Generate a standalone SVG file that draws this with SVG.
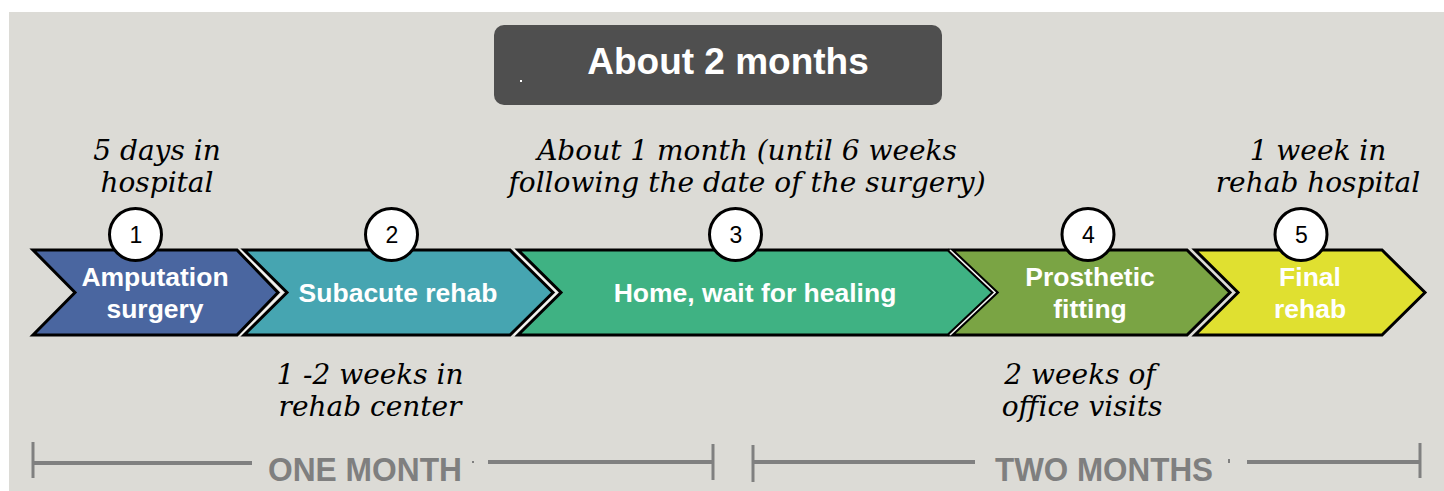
<svg xmlns="http://www.w3.org/2000/svg" width="1444" height="491" viewBox="0 0 1444 491">
<style>
.chev{stroke:#000;stroke-width:3;stroke-linejoin:miter}
.gap{fill:none;stroke:#f4f4f2;stroke-width:1.6}
.lbl{font-family:"Liberation Sans",Arial,sans-serif;font-weight:bold;font-size:26.5px;fill:#fff;text-anchor:middle}
.num{font-family:"Liberation Sans",Arial,sans-serif;font-size:23px;fill:#000;text-anchor:middle}
.circ{fill:#fff;stroke:#000;stroke-width:3}
.note{font-family:"DejaVu Serif","Liberation Serif",serif;font-style:italic;font-size:28px;fill:#000;text-anchor:middle}
.bar{stroke:#808080;stroke-width:4;fill:none}
.tick{stroke:#808080;stroke-width:3;fill:none}
.span{font-family:"Liberation Sans",Arial,sans-serif;font-weight:bold;font-size:33px;fill:#7f7f7f}
</style>
<rect x="0" y="0" width="1444" height="491" fill="#ffffff"/>
<rect x="9" y="12" width="1435" height="479" fill="#dcdbd6"/>

<g id="header">
<rect x="494" y="25" width="448" height="80" rx="10" ry="10" fill="#4f4f4f"/>
<text x="728" y="74" font-family="Liberation Sans,Arial,sans-serif" font-weight="bold" font-size="37" fill="#fff" text-anchor="middle">About 2 months</text>
<rect x="520" y="80" width="2" height="2" fill="#fff"/>
</g>

<g id="step1">
<path class="chev" fill="#4a66a0" d="M33,250 L237,250 L278,292.5 L237,335 L33,335 L75,292.5 Z"/>
<text class="lbl" x="155" y="286">Amputation</text>
<text class="lbl" x="155" y="318">surgery</text>
<text class="note" x="157" y="160">5 days in</text>
<text class="note" x="157" y="192">hospital</text>
</g>

<g id="step2">
<path class="chev" fill="#46a5b1" d="M244,250 L510,250 L553,292.5 L510,335 L244,335 L287,292.5 Z"/>
<polyline class="gap" points="240.5,250 282.5,292.5 240.5,335"/>
<text class="lbl" x="398" y="302">Subacute rehab</text>
<text class="note" x="370" y="384">1 -2 weeks in</text>
<text class="note" x="370" y="416">rehab center</text>
</g>

<g id="step3">
<path class="chev" fill="#3fb283" d="M518,250 L948,250 L993,292.5 L948,335 L518,335 L561,292.5 Z"/>
<polyline class="gap" points="514,250 557,292.5 514,335"/>
<text class="lbl" x="755" y="302">Home, wait for healing</text>
<text class="note" x="747" y="160">About 1 month (until 6 weeks</text>
<text class="note" x="747" y="192">following the date of the surgery)</text>
</g>

<g id="step4">
<path class="chev" fill="#7aa444" d="M952,250 L1187,250 L1230,292.5 L1187,335 L952,335 L997,292.5 Z"/>
<polyline class="gap" points="950,250 995,292.5 950,335"/>
<text class="lbl" x="1090" y="286">Prosthetic</text>
<text class="lbl" x="1090" y="318">fitting</text>
<text class="note" x="1080" y="384">2 weeks of</text>
<text class="note" x="1082" y="416">office visits</text>
</g>

<g id="step5">
<path class="chev" fill="#e0e030" d="M1195,250 L1382,250 L1425,292.5 L1382,335 L1195,335 L1238,292.5 Z"/>
<text class="lbl" x="1310" y="286">Final</text>
<text class="lbl" x="1310" y="318">rehab</text>
<text class="note" x="1318" y="160">1 week in</text>
<text class="note" x="1318" y="192">rehab hospital</text>
</g>

<g id="markers">
<circle class="circ" cx="135.5" cy="234.5" r="26"/>
<text class="num" x="136" y="243">1</text>
<circle class="circ" cx="391.5" cy="234.5" r="26"/>
<text class="num" x="392" y="243">2</text>
<circle class="circ" cx="735.5" cy="234.5" r="26"/>
<text class="num" x="736" y="243">3</text>
<circle class="circ" cx="1088" cy="234.5" r="26"/>
<text class="num" x="1088.5" y="243">4</text>
<circle class="circ" cx="1301" cy="234.5" r="26"/>
<text class="num" x="1301.5" y="243">5</text>
</g>

<g id="connectors">
<line class="tick" x1="33" y1="442" x2="33" y2="478"/>
<line class="bar" x1="33" y1="463" x2="252" y2="463"/>
<line class="bar" x1="488" y1="462" x2="713" y2="462"/>
<line class="tick" x1="713" y1="444" x2="713" y2="480"/>
<line class="tick" x1="753" y1="445" x2="753" y2="482"/>
<line class="bar" x1="753" y1="462" x2="975" y2="462"/>
<line class="bar" x1="1247" y1="462" x2="1420" y2="462"/>
<line class="tick" x1="1420" y1="443" x2="1420" y2="478"/>
</g>

<g id="spans">
<text class="span" x="268" y="481" textLength="194" lengthAdjust="spacingAndGlyphs">ONE MONTH</text>
<rect x="472" y="461" width="2" height="2" fill="#7f7f7f"/>
<text class="span" x="995" y="481" textLength="218" lengthAdjust="spacingAndGlyphs">TWO MONTHS</text>
<rect x="1228" y="459" width="2" height="4" fill="#7f7f7f"/>
</g>
</svg>
